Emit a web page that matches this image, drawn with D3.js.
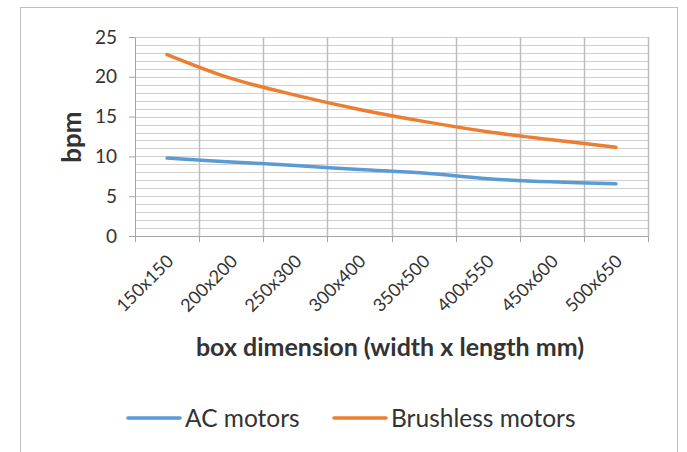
<!DOCTYPE html>
<html lang="en">
<head>
<meta charset="UTF-8">
<title>bpm vs box dimension</title>
<script src="https://d3js.org/d3.v7.min.js"></script>
<style>
  body { margin: 0; background: #fff; }
  text { font-family: Lato, "Open Sans", sans-serif; fill: #333; }
</style>
</head>
<body>
<svg width="687" height="452"></svg>
<script>
var categories = ["150x150", "200x200", "250x300", "300x400", "350x500", "400x550", "450x600", "500x650"];
var acMotors = [9.8, 9.3, 8.85, 8.35, 7.9, 7.2, 6.8, 6.55];
var brushlessMotors = [22.8, 19.8, 17.7, 15.9, 14.4, 13.1, 12.1, 11.15];
var yTicks = [0, 5, 10, 15, 20, 25];
var seriesNames = ["AC motors", "Brushless motors"];
var colors = ["#5b9bd5", "#ed7d31"];

var svg = d3.select("svg");
var padding = {top: 37, left: 135, right: 39, bottom: 217};
var width = +svg.attr("width");
var height = +svg.attr("height");
var plotW = width - padding.left - padding.right;
var plotH = height - padding.top - padding.bottom + 1;

// chart border
svg.append("rect")
  .attr("x", 20.5).attr("y", 7.5)
  .attr("width", 657).attr("height", 460)
  .attr("fill", "none").attr("stroke", "#bfbfbf").attr("stroke-width", 1);

var g = svg.append("g").attr("transform", "translate(" + padding.left + "," + padding.top + ")");

var xScale = d3.scaleBand().domain(categories).range([0, plotW]);
var yScale = d3.scaleLinear().domain([0, 25]).range([plotH, 0]);

// minor horizontal grid (every 1)
g.selectAll(".hgrid")
  .data(d3.range(1, 26))
  .enter().append("line")
  .attr("x1", 0).attr("x2", plotW)
  .attr("y1", function(d) { return Math.round(yScale(d)) + 0.5; })
  .attr("y2", function(d) { return Math.round(yScale(d)) + 0.5; })
  .attr("stroke", "#d0d0d0").attr("stroke-width", 1.2);

// vertical grid at category boundaries
var bounds = categories.map(function(c) { return xScale(c); }).concat([plotW]);
g.selectAll(".vgrid")
  .data(bounds.slice(1))
  .enter().append("line")
  .attr("x1", function(d) { return Math.round(d) + 0.5; })
  .attr("x2", function(d) { return Math.round(d) + 0.5; })
  .attr("y1", 0).attr("y2", plotH)
  .attr("stroke", "#bdbdbd").attr("stroke-width", 1.5);

// y axis
var yAxis = g.append("g")
  .call(d3.axisLeft(yScale).tickValues(yTicks).tickSize(6).tickPadding(12));
yAxis.select(".domain").attr("stroke", "#a6a6a6");
yAxis.selectAll(".tick line").attr("stroke", "#a6a6a6");
yAxis.selectAll("text").attr("font-size", "19px").attr("fill", "#333");

// x axis
var xAxis = g.append("g")
  .attr("transform", "translate(0," + plotH + ")")
  .call(d3.axisBottom(xScale).tickSize(0).tickFormat(function(d) { return d; }));
xAxis.select(".domain").attr("stroke", "#a6a6a6");
xAxis.selectAll(".tick line").remove();
xAxis.selectAll(".btick")
  .data(bounds)
  .enter().append("line")
  .attr("x1", function(d) { return Math.round(d) + 0.5; })
  .attr("x2", function(d) { return Math.round(d) + 0.5; })
  .attr("y1", 0).attr("y2", 6)
  .attr("stroke", "#a6a6a6");
xAxis.selectAll(".tick text")
  .attr("font-size", "18px").attr("fill", "#333")
  .attr("text-anchor", "end")
  .attr("y", 0)
  .attr("dy", "0.35em")
  .attr("transform", "translate(3,22) rotate(-45)");

// lines
var line = d3.line()
  .x(function(d, i) { return xScale(categories[i]) + xScale.bandwidth() / 2; })
  .y(function(d) { return yScale(d); })
  .curve(d3.curveCatmullRom.alpha(0.5));

[acMotors, brushlessMotors].forEach(function(s, i) {
  g.append("path")
    .datum(s)
    .attr("d", line)
    .attr("fill", "none")
    .attr("stroke", colors[i])
    .attr("stroke-width", 3.5)
    .attr("stroke-linecap", "round");
});

// axis titles
svg.append("text")
  .attr("transform", "translate(81,137) rotate(-90)")
  .attr("text-anchor", "middle")
  .attr("font-size", "26px").attr("font-weight", "bold")
  .text("bpm");

svg.append("text")
  .attr("x", 390).attr("y", 356)
  .attr("text-anchor", "middle")
  .attr("font-size", "25px").attr("font-weight", "bold")
  .text("box dimension (width x length mm)");

// legend
var legendX = [128, 334];
seriesNames.forEach(function(name, i) {
  var lg = svg.append("g").attr("transform", "translate(" + legendX[i] + ",418)");
  lg.append("line")
    .attr("x1", 0).attr("x2", 52).attr("y1", 0).attr("y2", 0)
    .attr("stroke", colors[i]).attr("stroke-width", 3.5).attr("stroke-linecap", "round");
  lg.append("text")
    .attr("x", 57).attr("y", 0).attr("dy", "0.35em")
    .attr("font-size", "24.5px")
    .text(name);
});
</script>
</body>
</html>
